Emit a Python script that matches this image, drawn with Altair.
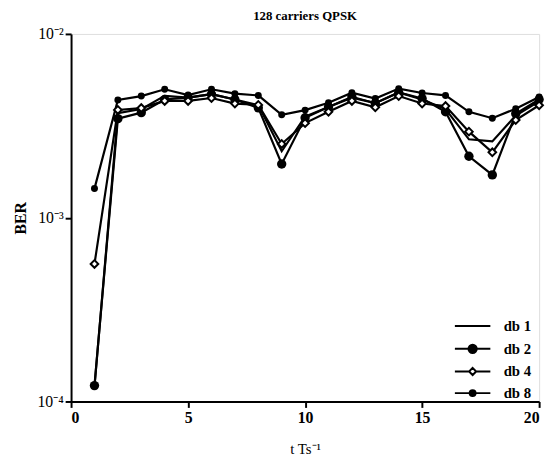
import altair as alt
import pandas as pd

t = list(range(1, 21))
db1 = [1.2e-4, 3.7e-3, 3.9e-3, 4.6e-3, 4.5e-3, 4.7e-3, 4.4e-3, 4.1e-3, 2.3e-3, 3.55e-3,
       4.0e-3, 4.5e-3, 4.2e-3, 4.8e-3, 4.4e-3, 3.9e-3, 2.67e-3, 2.6e-3, 3.6e-3, 4.3e-3]
db2 = [1.22e-4, 3.46e-3, 3.73e-3, 4.4e-3, 4.5e-3, 4.7e-3, 4.4e-3, 3.96e-3, 1.96e-3, 3.5e-3,
       4.0e-3, 4.55e-3, 4.2e-3, 4.8e-3, 4.45e-3, 3.77e-3, 2.16e-3, 1.71e-3, 3.68e-3, 4.4e-3]
db4 = [5.6e-4, 3.86e-3, 3.95e-3, 4.32e-3, 4.32e-3, 4.48e-3, 4.18e-3, 4.11e-3, 2.52e-3, 3.27e-3,
       3.77e-3, 4.32e-3, 3.99e-3, 4.59e-3, 4.18e-3, 4.05e-3, 2.94e-3, 2.27e-3, 3.40e-3, 4.09e-3]
db8 = [1.44e-3, 4.37e-3, 4.59e-3, 5.0e-3, 4.65e-3, 5.0e-3, 4.73e-3, 4.63e-3, 3.63e-3, 3.85e-3,
       4.22e-3, 4.79e-3, 4.45e-3, 5.04e-3, 4.77e-3, 4.63e-3, 3.77e-3, 3.48e-3, 3.92e-3, 4.54e-3]

names = ["db 1", "db 2", "db 4", "db 8"]
series_vals = [db1, db2, db4, db8]

rows = []
for n, vals in zip(names, series_vals):
    for ti, v in zip(t, vals):
        rows.append({"t": ti, "BER": v, "series": n})
df = pd.DataFrame(rows)

FONT = "Liberation Serif"

x_enc = alt.X("t:Q", scale=alt.Scale(domain=[0, 20], nice=False),
              axis=alt.Axis(values=[0, 5, 10, 15, 20], title="t Ts\u207b\u00b9",
                            labelFontWeight="bold", labelFontSize=16, labelFont=FONT,
                            titleFont=FONT, titleFontSize=15, titleFontWeight="normal",
                            titlePadding=17, tickSize=6, labelPadding=2,
                            domainWidth=2, tickWidth=2, domainColor="black", tickColor="black",
                            labelColor="black", titleColor="black", grid=False))
y_enc = alt.Y("BER:Q", scale=alt.Scale(type="log", domain=[1e-4, 1e-2], nice=False),
              axis=alt.Axis(values=[1e-4, 1e-3, 1e-2], title="BER",
                            labelExpr="datum.value >= 0.005 ? '10\u207b\u00b2' : (datum.value >= 0.0005 ? '10\u207b\u00b3' : '10\u207b\u2074')",
                            labelFontSize=16, labelFont=FONT, labelFontWeight="normal",
                            titleFont=FONT, titleFontSize=16, titleFontWeight="bold",
                            titlePadding=9, tickSize=6, labelPadding=2,
                            domainWidth=2, tickWidth=2, domainColor="black", tickColor="black",
                            labelColor="black", titleColor="black", grid=False))

base = alt.Chart(df)

lines = base.mark_line(color="black", strokeWidth=2.2).encode(x=x_enc, y=y_enc, detail="series:N")

p2 = base.transform_filter("datum.series == 'db 2'").mark_circle(
    color="black", size=90, opacity=1).encode(x="t:Q", y="BER:Q")
p4 = base.transform_filter("datum.series == 'db 4'").mark_point(
    shape="diamond", filled=True, fill="white", stroke="black", strokeWidth=2,
    size=60, opacity=1).encode(x="t:Q", y="BER:Q")
p8 = base.transform_filter("datum.series == 'db 8'").mark_circle(
    color="black", size=50, opacity=1).encode(x="t:Q", y="BER:Q")

paths = [
    "M-3,0L3,0",
    "M-3,0L3,0M-0.7,0A0.7,0.7,0,1,0,0.7,0A0.7,0.7,0,1,0,-0.7,0Z",
    "M-3,0L-0.6,0M0.6,0L3,0M0,-0.6L0.6,0L0,0.6L-0.6,0Z",
    "M-3,0L3,0M-0.5,0A0.5,0.5,0,1,0,0.5,0A0.5,0.5,0,1,0,-0.5,0Z",
]
legend_props = dict(title=None, orient="none", legendX=400, legendY=289,
                    symbolSize=144, symbolStrokeWidth=2,
                    labelFont=FONT, labelFontSize=15, labelFontWeight="bold",
                    labelColor="black", labelOffset=24, rowPadding=6, padding=0)
leg = base.transform_filter("datum.t < 0").mark_point(
    filled=True, opacity=1, strokeWidth=2).encode(
    x="t:Q", y="BER:Q",
    shape=alt.Shape("series:N", scale=alt.Scale(domain=names, range=paths),
                    legend=alt.Legend(**legend_props)),
    fill=alt.Fill("series:N", scale=alt.Scale(domain=names, range=["black", "black", "white", "black"]),
                  legend=alt.Legend(**legend_props)),
    stroke=alt.Stroke("series:N", scale=alt.Scale(domain=names, range=["black", "black", "black", "black"]),
                      legend=alt.Legend(**legend_props)),
)

chart = alt.layer(lines, p2, p4, p8, leg).properties(
    width=475, height=373,
    title=alt.TitleParams("128 carriers QPSK", font=FONT, fontSize=13, fontWeight="bold",
                          color="black", offset=3),
    autosize=alt.AutoSizeParams(type="none"),
    padding={"left": 64, "top": 23, "right": 9, "bottom": 52},
).configure_view(stroke=None).configure(background="white")

chart.save("out.html", embed_options={"renderer": "svg", "actions": False})
